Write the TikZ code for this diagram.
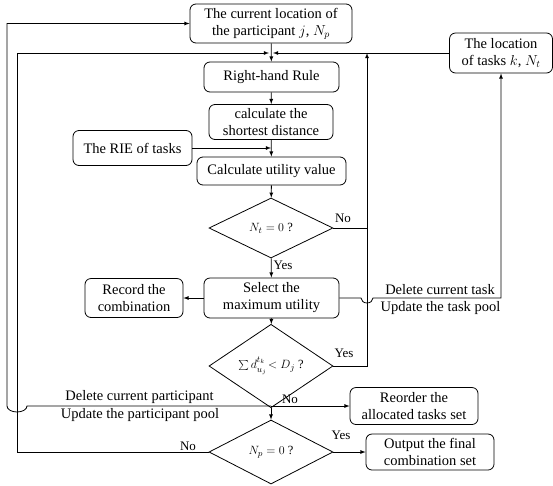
\documentclass[tikz,border=0pt]{standalone}
\usepackage{fontspec}
\setmainfont{Liberation Serif}
\usetikzlibrary{shapes}
\tikzstyle{bx}=[rectangle,rounded corners=6pt,draw=black,line width=0.8pt,align=center,inner sep=1pt,font=\fontsize{14.5}{17}\selectfont]
\tikzstyle{dc}=[diamond,draw=black,line width=0.8pt,minimum width=124pt,minimum height=62pt,inner sep=0pt,font=\fontsize{12.5}{14}\selectfont]
\tikzstyle{lb}=[inner sep=0pt,font=\fontsize{13}{15}\selectfont]
\tikzstyle{tx}=[inner sep=0pt,font=\fontsize{14.5}{17}\selectfont]
\tikzstyle{ln}=[line width=0.8pt]
\tikzstyle{ar}=[line width=0.8pt,->,>=latex]

\begin{document}
\begin{tikzpicture}[x=1pt,y=-1pt]
\useasboundingbox (0,0) rectangle (553,485);
% boxes
\node[bx,minimum width=162pt,minimum height=39pt] (part) at (271,23.5) {The current location of\\the participant $j$, $N_p$};
\node[bx,minimum width=103pt,minimum height=40pt] (tasks) at (501,53) {The location\\of tasks $k$, $N_t$};
\node[bx,minimum width=135pt,minimum height=30pt] (rhr) at (271.5,77) {Right-hand Rule};
\node[bx,minimum width=124pt,minimum height=35pt] (short) at (271,122) {calculate the\\shortest distance};
\node[bx,minimum width=119pt,minimum height=35pt] (rie) at (132.5,148) {The RIE of tasks};
\node[bx,minimum width=149pt,minimum height=28pt] (util) at (271.5,171) {Calculate utility value};
\node[dc,minimum height=60pt] (nt) at (271,228) {$N_t = 0$ ?};
\node[bx,minimum width=135pt,minimum height=40pt] (sel) at (271.5,298) {Select the\\maximum utility};
\node[bx,minimum width=98pt,minimum height=39pt] (rec) at (134,298) {Record the\\combination};
\node[dc] (sm) at (271,366) {$\textstyle\sum d^{\raisebox{1.5pt}{$\scriptstyle t_k$}}_{\raisebox{-1.5pt}{$\scriptstyle u_j$}}\!< D_j$ ?};
\node[dc,minimum height=64pt] (np) at (271,452) {$N_p = 0$ ?};
\node[bx,minimum width=128pt,minimum height=37pt] (reord) at (414,406) {Reorder the\\allocated tasks set};
\node[bx,minimum width=128pt,minimum height=36pt] (out) at (430,452) {Output the final\\combination set};
% junctions
\coordinate (jn) at (271,53);
\coordinate (lp) at (17,53);
\coordinate (jr) at (271,148);
\coordinate (ry) at (367,228);
\coordinate (rt) at (367,53);
\coordinate (jp) at (271,406);
\coordinate (op) at (7,23.5);
% main line
\draw[ar] (part) -- (rhr);
\draw[ar] (rhr) -- (short);
\draw[ar] (short) -- (util);
\draw[ar] (rie.east) -- (jr);
\draw[ar] (util) -- (nt);
\draw[ar] (nt) -- (sel);
\draw[ar] (sel) -- (sm);
\draw[ar] (sm) -- (np);
\draw[ar] (sel) -- (rec);
\draw[ar] (np) -- (out);
\draw[ar] (jp) -- (reord);
% loops
\draw[ar] (tasks.west) -- ([xshift=2pt]jn);
\draw[ln] (nt.east) -- (ry);
\draw[ar] (sm.east) -| (rt);
\draw[ar] (np.west) -| (lp) -- ([xshift=-2pt]jn);
\draw[ar] (sel.east) -- (361,298) arc[start angle=180,end angle=360,x radius=6pt,y radius=5pt] -| (tasks.south);
\draw[ar] (jp) -- (27,406) arc[start angle=0,end angle=-180,x radius=10pt,y radius=6pt] -- (op) -- (part.west);
% labels
\node[lb] (l1) at (343,218) {No};
\node[lb] (l2) at (283,265) {Yes};
\node[lb] (l3) at (344,353) {Yes};
\node[lb] (l4) at (290,399) {No};
\node[lb] (l5) at (341,435) {Yes};
\node[lb] (l6) at (188,446) {No};
\node[tx] (t1) at (440,290) {Delete current task};
\node[tx] (t2) at (440.5,308) {Update the task pool};
\node[tx] (t3) at (139.5,397) {Delete current participant};
\node[tx] (t4) at (140,415) {Update the participant pool};
\end{tikzpicture}
\end{document}
